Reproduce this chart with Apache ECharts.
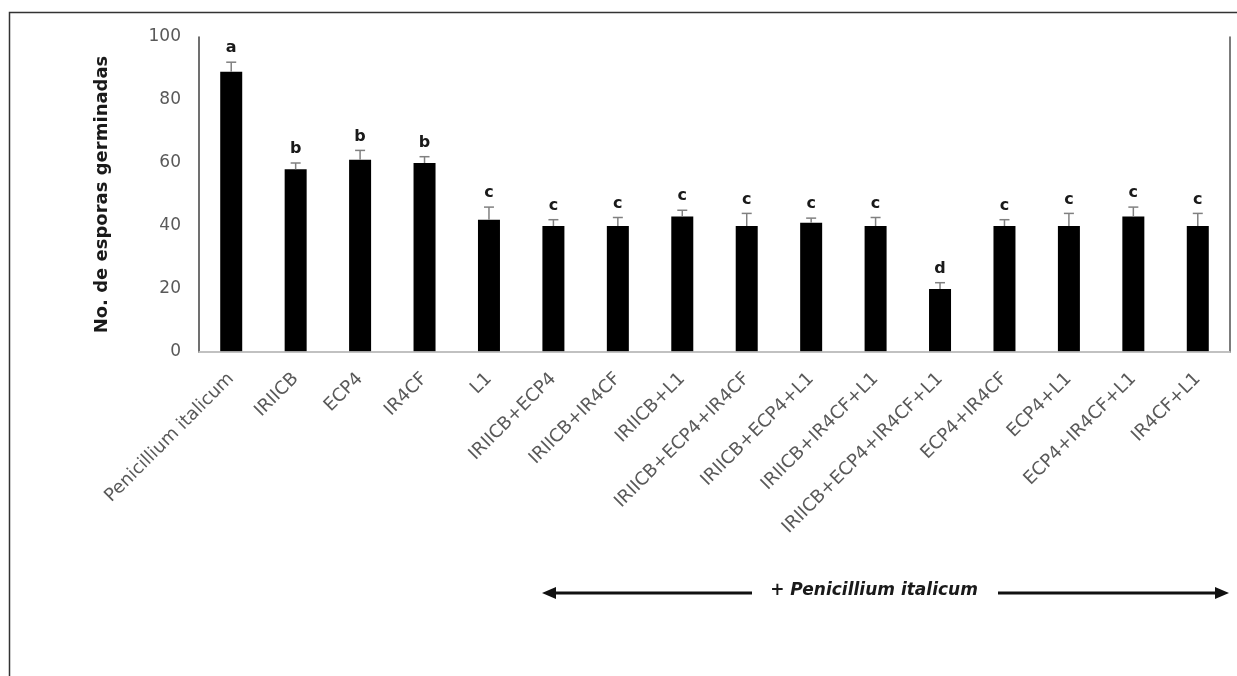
<!DOCTYPE html>
<html>
<head>
<meta charset="utf-8">
<script src="https://cdn.jsdelivr.net/npm/echarts@6/dist/echarts.min.js"></script>
<style>
html,body{margin:0;padding:0;background:#fff;}
#chart{width:1237px;height:676px;}
</style>
</head>
<body>
<div id="chart"></div>
<script>
var categories = ['Penicillium italicum','IRIICB','ECP4','IR4CF','L1','IRIICB+ECP4','IRIICB+IR4CF','IRIICB+L1','IRIICB+ECP4+IR4CF','IRIICB+ECP4+L1','IRIICB+IR4CF+L1','IRIICB+ECP4+IR4CF+L1','ECP4+IR4CF','ECP4+L1','ECP4+IR4CF+L1','IR4CF+L1'];
var values = [89, 58, 61, 60, 42, 40, 40, 43, 40, 41, 40, 20, 40, 40, 43, 40];
var errors = [3, 2, 3, 2, 4, 2, 2.7, 2, 4, 1.5, 2.7, 2, 2, 4, 3, 4];
var letters = ['a','b','b','b','c','c','c','c','c','c','c','d','c','c','c','c'];
var yTicks = [0, 20, 40, 60, 80, 100];
var yTitle = 'No. de esporas germinadas';
var noteText = '+ Penicillium italicum';

var FONT = '"DejaVu Sans", "Liberation Sans", Arial, sans-serif';
var chart = echarts.init(document.getElementById('chart'), null, {renderer: 'canvas'});

var errData = values.map(function (v, i) { return [i, v, errors[i], letters[i]]; });

var option = {
  backgroundColor: '#ffffff',
  animation: false,
  grid: {left: 199, top: 37, right: 7, bottom: 324, containLabel: false},
  xAxis: [{
    type: 'category',
    data: categories,
    axisLine: {show: true, lineStyle: {color: '#d9d9d9', width: 1.5}},
    axisTick: {show: false},
    axisLabel: {rotate: 45, interval: 0, margin: 24, color: '#595959', fontSize: 18, fontFamily: FONT},
    splitLine: {show: false},
    z: 5
  }, {
    type: 'category',
    data: categories,
    position: 'top',
    axisLine: {show: true, lineStyle: {color: '#505050', width: 1.5}},
    axisTick: {show: false},
    axisLabel: {show: false}
  }],
  yAxis: [{
    type: 'value',
    min: 0, max: 100, interval: 20,
    axisLine: {show: true, lineStyle: {color: '#404040', width: 1.5}},
    axisTick: {show: false},
    splitLine: {show: false},
    axisLabel: {
      margin: 18, color: '#595959', fontSize: 17, fontFamily: FONT,
      formatter: function (v) { return yTicks.indexOf(v) >= 0 ? String(v) : ''; }
    },
    name: yTitle,
    nameLocation: 'middle',
    nameGap: 88,
    nameRotate: 90,
    nameTextStyle: {fontSize: 18, fontWeight: 'bold', color: '#1a1a1a', fontFamily: FONT}
  }, {
    type: 'value',
    min: 0, max: 100, interval: 20,
    position: 'right',
    axisLine: {show: true, lineStyle: {color: '#505050', width: 1.5}},
    axisTick: {show: false},
    splitLine: {show: false},
    axisLabel: {show: false}
  }],
  series: [{
    type: 'bar',
    data: values,
    barWidth: 22,
    itemStyle: {color: '#000000'},
    z: 2
  }, {
    type: 'custom',
    data: errData,
    z: 3,
    renderItem: function (params, api) {
      var i = api.value(0), v = api.value(1), e = api.value(2);
      var p0 = api.coord([i, v]);
      var p1 = api.coord([i, v + e]);
      var cap = 5;
      var style = {stroke: '#808080', lineWidth: 1.5};
      return {
        type: 'group',
        children: [
          {type: 'line', shape: {x1: p0[0], y1: p0[1], x2: p1[0], y2: p1[1]}, style: style},
          {type: 'line', shape: {x1: p1[0] - cap, y1: p1[1], x2: p1[0] + cap, y2: p1[1]}, style: style},
          {type: 'text', x: p1[0], y: p1[1] - 6, style: {
            text: letters[params.dataIndex], textAlign: 'center', textVerticalAlign: 'bottom',
            fill: '#1a1a1a', font: 'bold 16px ' + FONT
          }}
        ]
      };
    }
  }],
  graphic: [
    {type: 'rect', shape: {x: 9.5, y: 12.5, width: 1400, height: 900}, style: {fill: 'none', stroke: '#333333', lineWidth: 1.5}, z: 0, silent: true},
    {type: 'line', shape: {x1: 552, y1: 593, x2: 752, y2: 593}, style: {stroke: '#111', lineWidth: 3}},
    {type: 'polygon', shape: {points: [[542, 593], [556, 587], [556, 599]]}, style: {fill: '#111'}},
    {type: 'line', shape: {x1: 998, y1: 593, x2: 1218, y2: 593}, style: {stroke: '#111', lineWidth: 3}},
    {type: 'polygon', shape: {points: [[1229, 593], [1215, 587], [1215, 599]]}, style: {fill: '#111'}},
    {type: 'text', x: 874, y: 591, style: {text: noteText, textAlign: 'center', textVerticalAlign: 'middle', fill: '#1a1a1a', font: 'italic bold 17px ' + FONT}}
  ]
};
chart.setOption(option);
</script>
</body>
</html>
